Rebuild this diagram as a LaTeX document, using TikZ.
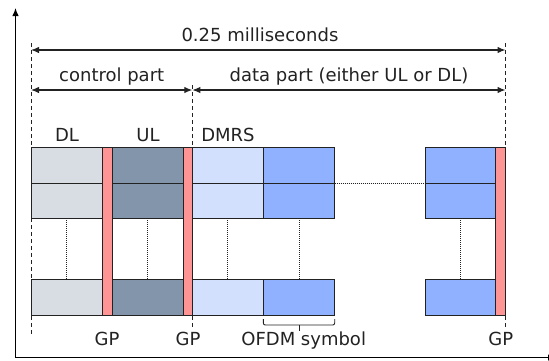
\documentclass[tikz,border=0pt]{standalone}
\usepackage{fontspec}
\setmainfont{DejaVu Sans}
\usetikzlibrary{arrows.meta}
\definecolor{dlc}{HTML}{D8DCE3}
\definecolor{ulc}{HTML}{8395AA}
\definecolor{dmc}{HTML}{D2E0FE}
\definecolor{dac}{HTML}{8FB1FF}
\definecolor{gpc}{HTML}{FF9494}
\definecolor{ink}{HTML}{222222}
\begin{document}
\begin{tikzpicture}[x=1pt,y=-1pt,
  lbl/.style={font=\fontsize{18}{20}\selectfont, text=ink, anchor=base, inner sep=0pt},
  blk/.style={draw=ink, line width=0.9pt, anchor=north west, inner sep=0pt, outer sep=0pt},
  gpbar/.style={blk, fill=gpc, minimum height=168pt},
  dimarrow/.style={draw=ink, line width=1.2pt, {Latex[length=8pt,width=6.5pt]}-{Latex[length=8pt,width=6.5pt]}},
  axisline/.style={draw=black, line width=1.2pt, -{Latex[length=8pt,width=6.5pt]}},
  guide/.style={draw=ink, line width=0.9pt, dash pattern=on 4pt off 3pt},
  dotline/.style={draw=ink, line width=0.8pt, dash pattern=on 1pt off 1pt}]
\clip (0,0) rectangle (549,360);
\fill[white] (0,0) rectangle (549,360);
% axes
\coordinate (o) at (15.5,357.5);
\coordinate (ytip) at (15.5,8);
\coordinate (xtip) at (556,357.5);
\draw[axisline] (o) -- (ytip);
\draw[axisline] (o) -- (xtip);
% guide lines
\coordinate (gl1) at (31,43);   \coordinate (gl2) at (31,335);
\coordinate (gm1) at (192.3,85); \coordinate (gm2) at (192.3,327);
\coordinate (gr1) at (505.5,43); \coordinate (gr2) at (505.5,327);
\draw[guide] (gl1) -- (gl2);
\draw[guide] (gm1) -- (gm2);
\draw[guide] (gr1) -- (gr2);
% dimension arrows
\coordinate (a1) at (31,50);   \coordinate (a2) at (505.5,50);
\coordinate (c1) at (31,90);   \coordinate (c2) at (192.3,90);
\coordinate (d1) at (192.3,90); \coordinate (d2) at (505.5,90);
\draw[dimarrow] (a1) -- (a2);
\draw[dimarrow] (c1) -- (c2);
\draw[dimarrow] (d1) -- (d2);
\node[lbl] (tms) at (260,41.5) {0.25 milliseconds};
\node[lbl] (tcp) at (111.7,81.5) {control part};
\node[lbl] (tdp) at (349,81.5) {data part (either UL or DL)};
% blocks
\foreach \c/\x/\w/\col in {dl/31/71.3/dlc, ul/112.3/71/ulc, dm/192.3/71/dmc, da/263.3/71.4/dac, rb/425/70.7/dac}{
  \node[blk, fill=\col, minimum width=\w pt, minimum height=36pt] (\c1) at (\x,147) {};
  \node[blk, fill=\col, minimum width=\w pt, minimum height=35pt] (\c2) at (\x,183) {};
  \node[blk, fill=\col, minimum width=\w pt, minimum height=36pt] (\c3) at (\x,279) {};
  \draw[dotline] (\c2.south) -- (\c3.north);
}
\draw[dotline] (da1.south east) -- (rb1.south west);
% guard periods
\node[gpbar, minimum width=10pt] (gp1) at (102.3,147) {};
\node[gpbar, minimum width=9pt] (gp2) at (183.3,147) {};
\node[gpbar, minimum width=9.8pt] (gp3) at (495.7,147) {};
% labels
\node[lbl] (tdl) at (67,141.7) {DL};
\node[lbl] (tul) at (148,141.7) {UL};
\node[lbl] (tdm) at (228,141.7) {DMRS};
\node[lbl] (g1) at (107,345) {GP};
\node[lbl] (g2) at (188,345) {GP};
\node[lbl] (g3) at (500.7,345) {GP};
\node[lbl] (tof) at (303.7,345) {OFDM symbol};
% brace
\coordinate (bl) at (263.3,319);
\coordinate (br) at (334.7,319);
\coordinate (bm) at (299,325);
\draw[draw=ink, line width=0.9pt, rounded corners=2pt] (bl) -- (bl |- bm) -- (bm) -- (br |- bm) -- (br);
\draw[draw=ink, line width=0.9pt] (bm) -- ++(0,6);
\end{tikzpicture}
\end{document}
